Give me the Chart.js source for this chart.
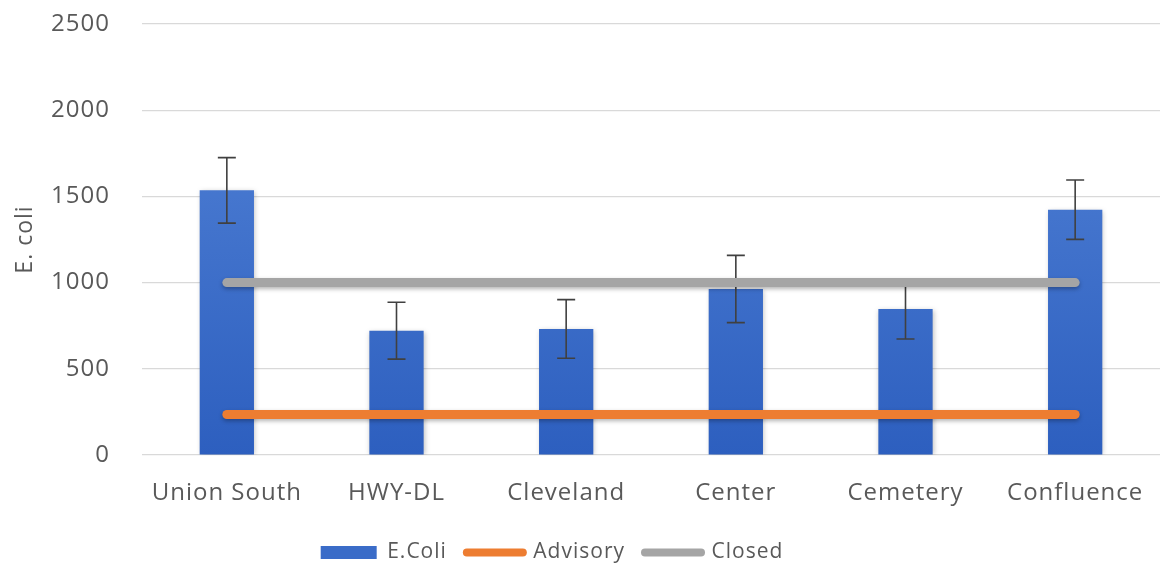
<!DOCTYPE html>
<html>
<head>
<meta charset="utf-8">
<script src="https://cdn.jsdelivr.net/npm/chart.js@4/dist/chart.umd.min.js"></script>
<style>
  html, body { margin: 0; padding: 0; background: #ffffff; }
  #wrap { width: 1160px; height: 573px; }
</style>
</head>
<body>
<div id="wrap"><canvas id="c" width="1160" height="573"></canvas></div>
<script>
const categories = ['Union South', 'HWY-DL', 'Cleveland', 'Center', 'Cemetery', 'Confluence'];
const ecoli = [1535, 721, 731, 963, 847, 1423];
const ecoliError = [190, 165, 170, 195, 174, 172];
const advisory = [235, 235, 235, 235, 235, 235];
const closed = [1000, 1000, 1000, 1000, 1000, 1000];
const yTicks = [0, 500, 1000, 1500, 2000, 2500];

const TEXT = '#595959';
const FONT = "'Open Sans', 'DejaVu Sans', sans-serif";

function barGradient(ctx) {
  const area = ctx.chart.chartArea;
  if (!area) return '#4472C4';
  const g = ctx.chart.ctx.createLinearGradient(0, area.top, 0, area.bottom);
  g.addColorStop(0, '#5585d8');
  g.addColorStop(1, '#2d5fbf');
  return g;
}

const spacingPlugin = {
  id: 'spacing',
  beforeLayout(chart) { chart.ctx.letterSpacing = '1px'; },
  afterLayout(chart) {
    const lg = chart.legend;
    if (lg) { lg.left = 0; lg.right = 1104; lg.width = 1104; }
  },
  beforeDraw(chart) { chart.ctx.letterSpacing = '1px'; }
};

const shadowPlugin = {
  id: 'shadows',
  beforeDatasetDraw(chart, args) {
    const ctx = chart.ctx;
    ctx.save();
    if (args.index === 0) {
      ctx.shadowColor = 'rgba(0,0,0,0.25)';
      ctx.shadowBlur = 5;
      ctx.shadowOffsetX = 1;
      ctx.shadowOffsetY = 1;
    } else {
      ctx.shadowColor = 'rgba(0,0,0,0.3)';
      ctx.shadowBlur = 4;
      ctx.shadowOffsetX = 0;
      ctx.shadowOffsetY = 2;
    }
  },
  afterDatasetDraw(chart, args) {
    const ctx = chart.ctx;
    ctx.restore();
    if (args.index !== 0) return;
    const meta = chart.getDatasetMeta(0);
    const ys = chart.scales.y;
    ctx.save();
    ctx.strokeStyle = '#404040';
    ctx.lineWidth = 1.6;
    const cap = 9;
    meta.data.forEach((bar, i) => {
      const v = ecoli[i], e = ecoliError[i];
      const yTop = ys.getPixelForValue(v + e);
      const yBot = ys.getPixelForValue(v - e);
      const x = bar.x;
      ctx.beginPath();
      ctx.moveTo(x, yTop); ctx.lineTo(x, yBot);
      ctx.moveTo(x - cap, yTop); ctx.lineTo(x + cap, yTop);
      ctx.moveTo(x - cap, yBot); ctx.lineTo(x + cap, yBot);
      ctx.stroke();
    });
    ctx.restore();
  }
};

new Chart(document.getElementById('c'), {
  type: 'bar',
  data: {
    labels: categories,
    datasets: [
      {
        type: 'bar',
        label: 'E.Coli',
        data: ecoli,
        backgroundColor: barGradient,
        borderWidth: 0,
        categoryPercentage: 1.0,
        barPercentage: 0.32,
        order: 3
      },
      {
        type: 'line',
        label: 'Advisory',
        data: advisory,
        borderColor: '#ED7D31',
        backgroundColor: '#ED7D31',
        borderWidth: 9,
        borderCapStyle: 'round',
        pointRadius: 0,
        pointHoverRadius: 0,
        fill: false,
        order: 2
      },
      {
        type: 'line',
        label: 'Closed',
        data: closed,
        borderColor: '#A5A5A5',
        backgroundColor: '#A5A5A5',
        borderWidth: 9,
        borderCapStyle: 'round',
        pointRadius: 0,
        pointHoverRadius: 0,
        fill: false,
        order: 1
      }
    ]
  },
  options: {
    responsive: false,
    animation: false,
    devicePixelRatio: 1,
    layout: { padding: { top: 24, left: 0, right: 0, bottom: 0 } },
    plugins: {
      tooltip: { enabled: false },
      legend: {
        position: 'bottom',
        labels: {
          color: TEXT,
          font: { family: FONT, size: 21 },
          usePointStyle: true,
          pointStyleWidth: 56,
          boxHeight: 13,
          padding: 20,
          generateLabels(chart) {
            return chart.data.datasets.map((ds, i) => {
              const isBar = i === 0;
              return {
                text: ds.label,
                fillStyle: isBar ? '#3a6cc8' : ds.borderColor,
                strokeStyle: isBar ? '#3a6cc8' : ds.borderColor,
                lineWidth: isBar ? 0 : 8,
                lineCap: 'round',
                pointStyle: isBar ? 'rect' : 'line',
                fontColor: TEXT,
                hidden: false,
                datasetIndex: i
              };
            });
          }
        }
      }
    },
    scales: {
      x: {
        grid: { display: false },
        border: { display: false },
        afterFit(scale) { scale.height = 67; scale.paddingLeft = 0; scale.paddingRight = 0; },
        ticks: {
          color: TEXT,
          font: { family: FONT, size: 24 },
          padding: 16,
          maxRotation: 0,
          autoSkip: false
        }
      },
      y: {
        min: 0,
        max: 2500,
        afterBuildTicks(scale) { scale.ticks = yTicks.map(v => ({ value: v })); },
        afterFit(scale) { scale.width = 142; scale.paddingTop = 0; scale.paddingBottom = 0; },
        grid: { color: '#d9d9d9', lineWidth: 1.2, drawTicks: false },
        border: { display: false },
        ticks: {
          color: TEXT,
          font: { family: FONT, size: 24 },
          padding: 32,
          callback: (v) => String(v)
        },
        title: {
          display: true,
          text: 'E. coli',
          color: TEXT,
          font: { family: FONT, size: 23 },
          padding: { top: 12, bottom: 0 }
        }
      }
    }
  },
  plugins: [spacingPlugin, shadowPlugin]
});
</script>
</body>
</html>
